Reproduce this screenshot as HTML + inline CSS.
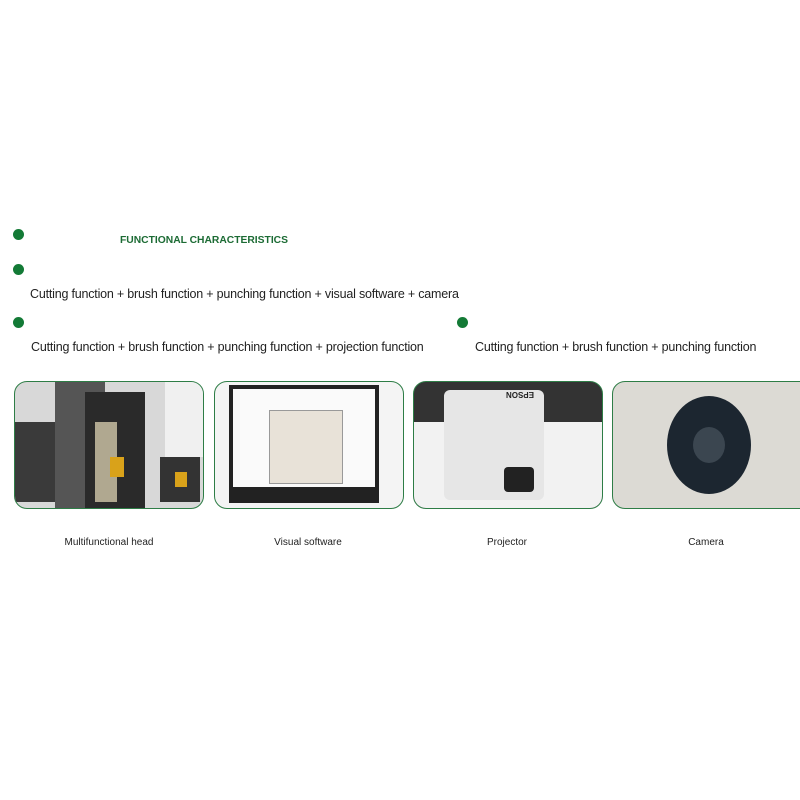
<!DOCTYPE html>
<html><head><meta charset="utf-8"><style>
body{margin:0;width:800px;height:800px;background:#fff;position:relative;overflow:hidden;font-family:"Liberation Sans",sans-serif;}
.dot{position:absolute;width:11px;height:11px;border-radius:50%;background:#137a36;}
.t{position:absolute;font-size:12.5px;color:#222;white-space:nowrap;letter-spacing:-0.2px;}
.box{position:absolute;top:381px;height:126px;border:1.5px solid #2e7d46;border-radius:13px;overflow:hidden;}
.cap{position:absolute;top:537px;font-size:10px;color:#222;text-align:center;width:190px;}
</style></head><body>
<div class="dot" style="left:13px;top:229px"></div>
<div style="position:absolute;left:120px;top:235px;font-size:10.3px;font-weight:bold;color:#1c6b34;">FUNCTIONAL CHARACTERISTICS</div>
<div class="dot" style="left:13px;top:264px"></div>
<div class="t" style="left:30px;top:287px">Cutting function + brush function + punching function + visual software + camera</div>
<div class="dot" style="left:13px;top:317px"></div>
<div class="t" style="left:31px;top:340px">Cutting function + brush function + punching function + projection function</div>
<div class="dot" style="left:457px;top:317px"></div>
<div class="t" style="left:475px;top:340px">Cutting function + brush function + punching function</div>

<div class="box" style="left:14px;width:188px;background:#d8d8d8">
 <div style="position:absolute;left:0;top:40px;width:60px;height:80px;background:#3a3a3a"></div>
 <div style="position:absolute;left:40px;top:0;width:50px;height:126px;background:#555"></div>
 <div style="position:absolute;left:70px;top:10px;width:60px;height:116px;background:#2a2a2a"></div>
 <div style="position:absolute;left:80px;top:40px;width:22px;height:80px;background:#b0a890"></div>
 <div style="position:absolute;left:95px;top:75px;width:14px;height:20px;background:#d9a21a"></div>
 <div style="position:absolute;left:145px;top:75px;width:40px;height:45px;background:#333"></div>
 <div style="position:absolute;left:160px;top:90px;width:12px;height:15px;background:#d9a21a"></div>
 <div style="position:absolute;left:150px;top:0;width:40px;height:75px;background:#f0f0f0"></div>
</div>
<div class="box" style="left:214px;width:188px;background:#f4f4f4">
 <div style="position:absolute;left:14px;top:3px;width:150px;height:118px;background:#222"></div>
 <div style="position:absolute;left:18px;top:7px;width:142px;height:98px;background:#fafafa"></div>
 <div style="position:absolute;left:54px;top:28px;width:72px;height:72px;background:#e8e2d8;border:1px solid #999"></div>
</div>
<div class="box" style="left:413px;width:188px;background:#333">
 <div style="position:absolute;left:0;top:40px;width:188px;height:86px;background:#f2f2f2"></div>
 <div style="position:absolute;left:30px;top:8px;width:100px;height:110px;background:#e6e6e6;border-radius:6px"></div>
 <div style="position:absolute;left:90px;top:85px;width:30px;height:25px;background:#222;border-radius:4px"></div>
 <div style="position:absolute;left:92px;top:8px;font-size:8px;font-weight:bold;color:#222;transform:rotate(180deg)">EPSON</div>
</div>
<div class="box" style="left:612px;width:200px;background:#dcdad4">
 <div style="position:absolute;left:54px;top:14px;width:84px;height:98px;border-radius:50%;background:#1c2630"></div>
 <div style="position:absolute;left:80px;top:45px;width:32px;height:36px;border-radius:50%;background:#3b4650"></div>
</div>
<div class="cap" style="left:14px">Multifunctional head</div>
<div class="cap" style="left:213px">Visual software</div>
<div class="cap" style="left:412px">Projector</div>
<div class="cap" style="left:611px">Camera</div>
</body></html>
